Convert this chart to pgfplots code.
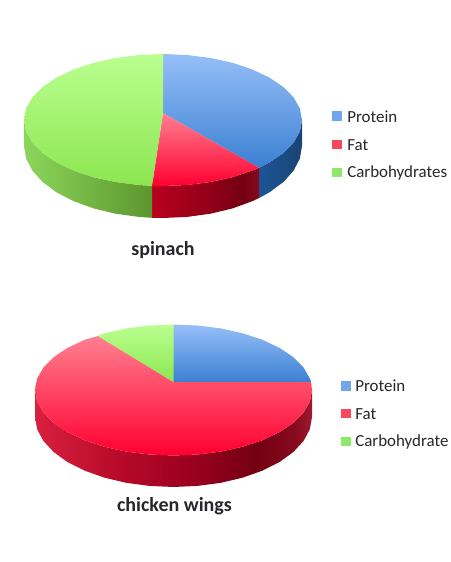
\documentclass[border=0pt]{standalone}
\usepackage{pgfplots}
\usepackage{fontspec}
\setmainfont{Carlito}
\pgfplotsset{compat=1.18}
\definecolor{legblue}{HTML}{6FA6EE}
\definecolor{legred}{HTML}{F8485E}
\definecolor{leggreen}{HTML}{8EE86A}
\definecolor{txt}{HTML}{26262C}
\definecolor{bluetop}{HTML}{96BFF8}
\definecolor{bluebot}{HTML}{3B80D2}
\definecolor{redtop}{HTML}{FF8090}
\definecolor{redbot}{HTML}{FF0030}
\definecolor{greentop}{HTML}{BAFF90}
\definecolor{greenbot}{HTML}{8CE650}
\definecolor{bluesideA}{HTML}{1E5595}
\definecolor{bluesideB}{HTML}{184474}
\definecolor{greensideA}{HTML}{8CD65A}
\definecolor{greensideB}{HTML}{5C962E}
\definecolor{wallA}{HTML}{D8203F}
\definecolor{wallB}{HTML}{B80A2A}
\definecolor{wallC}{HTML}{9E0020}
\definecolor{wallD}{HTML}{740012}
\definecolor{wallE}{HTML}{860A1E}
\definecolor{wallF}{HTML}{A01A30}
\definecolor{wallG}{HTML}{B8001F}
\definecolor{wallH}{HTML}{930018}
% side-wall shadings; the path spans 25bp to 75bp of each
\pgfdeclarehorizontalshading{redwall}{100bp}{
  color(0bp)=(wallG); color(25bp)=(wallG);
  color(50bp)=(wallH); color(68bp)=(wallD); color(75bp)=(wallE); color(100bp)=(wallE)}
\pgfdeclarehorizontalshading{wingwall}{100bp}{
  color(0bp)=(wallA); color(25bp)=(wallA);
  color(40bp)=(wallB); color(52bp)=(wallC); color(65bp)=(wallD);
  color(72bp)=(wallE); color(75bp)=(wallF); color(100bp)=(wallF)}
\tikzset{
  lbl/.style={font=\fontsize{12.7}{14}\selectfont, text=txt, anchor=west, inner sep=0pt},
  ttl/.style={font=\fontsize{15}{17}\selectfont\bfseries, text=txt, inner sep=0pt},
}
\begin{document}
\begin{tikzpicture}
\path[use as bounding box] (0,0) rectangle (338.25pt,421.5pt);
\begin{axis}[
  at={(0,0)}, anchor=south west,
  x=0.75pt, y=0.75pt, y dir=reverse,
  xmin=0, xmax=451, ymin=0, ymax=562,
  hide axis, clip=false,
]
% spinach: side wall
\addplot[draw=none, left color=bluesideA, right color=bluesideB] coordinates {
 (259,167.8)(269.5,162.4)(283.4,153)(293.6,142.6)(299.9,131.5)(302,120)
 (302,146)(299.9,158.5)(293.6,170.6)(283.4,182)(269.5,192.3)(259,198.1)} --cycle;
\addplot[draw=none, shade, shading=redwall] coordinates {
 (152,185.8)(163,186)(187.1,185)(210.5,182)(232.5,177.2)(252.3,170.6)(259,167.8)
 (259,198.1)(252.3,201.2)(232.5,208.4)(210.5,213.7)(187.1,216.9)(163,218)(152,217.8)} --cycle;
\addplot[draw=none, left color=greensideA, right color=greensideB] coordinates {
 (24,120)(26.1,131.5)(32.4,142.6)(42.6,153)(56.5,162.4)(73.7,170.6)(93.5,177.2)(115.5,182)(138.9,185)(152,185.8)
 (152,217.8)(138.9,216.9)(115.5,213.7)(93.5,208.4)(73.7,201.2)(56.5,192.3)(42.6,182)(32.4,170.6)(26.1,158.5)(24,146)} --cycle;
% spinach: top face
\addplot[draw=none, top color=bluetop, bottom color=bluebot] coordinates {
 (163,113)(163,54)(187.1,55)(210.5,58)(232.5,62.8)(252.3,69.4)(269.5,77.6)(283.4,87)(293.6,97.4)(299.9,108.5)(302,120)
 (299.9,131.5)(293.6,142.6)(283.4,153)(269.5,162.4)(259,167.8)} --cycle;
\addplot[draw=none, top color=redtop, bottom color=redbot] coordinates {
 (163,113)(259,167.8)(252.3,170.6)(232.5,177.2)(210.5,182)(187.1,185)(163,186)(152,185.8)} --cycle;
\addplot[draw=none, top color=greentop, bottom color=greenbot] coordinates {
 (163,113)(152,185.8)(138.9,185)(115.5,182)(93.5,177.2)(73.7,170.6)(56.5,162.4)(42.6,153)(32.4,142.6)(26.1,131.5)(24,120)
 (26.1,108.5)(32.4,97.4)(42.6,87)(56.5,77.6)(73.7,69.4)(93.5,62.8)(115.5,58)(138.9,55)(163,54)} --cycle;

% chicken wings: side wall
\addplot[draw=none, shade, shading=wingwall] coordinates {
 (35,390)(37.1,401.4)(43.4,412.4)(53.6,422.8)(67.4,432.1)(84.5,440.2)(104.2,446.7)(126.1,451.6)(149.5,454.5)(173.5,455.5)
 (197.5,454.5)(220.9,451.6)(242.8,446.7)(262.5,440.2)(279.6,432.1)(293.4,422.8)(303.6,412.4)(309.9,401.4)(312,390)
 (312,417)(309.9,429.2)(303.6,440.9)(293.4,452)(279.6,462)(262.5,470.6)(242.8,477.6)(220.9,482.8)(197.5,485.9)(173.5,487)
 (149.5,485.9)(126.1,482.8)(104.2,477.6)(84.5,470.6)(67.4,462)(53.6,452)(43.4,440.9)(37.1,429.2)(35,417)} --cycle;
% chicken wings: top face
\addplot[draw=none, top color=bluetop, bottom color=bluebot] coordinates {
 (173.5,382)(173.5,324.5)(197.5,325.5)(220.9,328.4)(242.8,333.3)(262.5,339.8)(279.6,347.9)(293.4,357.2)(303.6,367.6)(309.9,378.6)(311,382)} --cycle;
\addplot[draw=none, top color=redtop, bottom color=redbot] coordinates {
 (173.5,382)(311,382)(312,390)(309.9,401.4)(303.6,412.4)(293.4,422.8)(279.6,432.1)(262.5,440.2)(242.8,446.7)(220.9,451.6)(197.5,454.5)(173.5,455.5)
 (149.5,454.5)(126.1,451.6)(104.2,446.7)(84.5,440.2)(67.4,432.1)(53.6,422.8)(43.4,412.4)(37.1,401.4)(35,390)
 (37.1,378.6)(43.4,367.6)(53.6,357.2)(67.4,347.9)(84.5,339.8)(98,336)} --cycle;
\addplot[draw=none, top color=greentop, bottom color=greenbot] coordinates {
 (173.5,382)(98,336)(104.2,333.3)(126.1,328.4)(149.5,325.5)(173.5,324.5)} --cycle;

% legend swatches
\addplot[only marks, mark=square*, mark size=3.1pt, color=legblue] coordinates {(336.7,115.7)(345.7,385.7)};
\addplot[only marks, mark=square*, mark size=3.1pt, color=legred] coordinates {(336.7,144)(345.7,413)};
\addplot[only marks, mark=square*, mark size=3.1pt, color=leggreen] coordinates {(336.7,172)(345.7,441)};

\node[lbl] at (axis cs:347,117) {Protein};
\node[lbl] at (axis cs:347,145) {Fat};
\node[lbl] at (axis cs:347,173) {Carbohydrates};
\node[lbl] at (axis cs:355,386) {Protein};
\node[lbl] at (axis cs:355,414) {Fat};
\node[lbl] at (axis cs:355,442) {Carbohydrate};
\node[ttl] at (axis cs:163,250) {spinach};
\node[ttl] at (axis cs:174.5,506) {chicken wings};
\end{axis}
\end{tikzpicture}
\end{document}
